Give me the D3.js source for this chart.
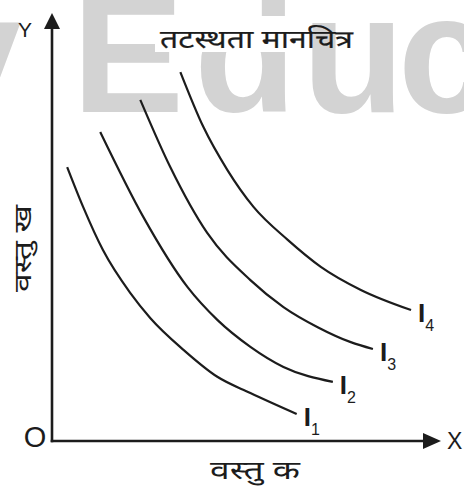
<!DOCTYPE html>
<html>
<head>
<meta charset="utf-8">
<script src="https://cdn.jsdelivr.net/npm/d3@7"></script>
<style>
html, body { margin: 0; padding: 0; background: #fff; }
svg { display: block; }
</style>
</head>
<body>
<div id="chart"></div>
<script>
// indifference map, values (0..100 on both axes)
var curveNames = ["1", "2", "3", "4"];
var i1X = [3.9, 8.0, 13.1, 20.1, 25.3, 33.8, 42.5, 51.0, 62.9];
var i1Y = [64.0, 54.7, 44.6, 34.6, 28.7, 21.3, 15.0, 11.2, 6.3];
var i2X = [12.4, 23.5, 34.8, 42.5, 51.0, 59.5, 72.2];
var i2Y = [72.2, 52.3, 36.0, 28.3, 22.0, 17.3, 13.8];
var i3X = [22.7, 30.4, 39.9, 51.0, 59.5, 68.3, 76.8, 82.5];
var i3Y = [79.7, 64.0, 48.6, 37.6, 31.3, 26.6, 23.1, 21.5];
var i4X = [33.0, 38.9, 45.1, 51.8, 60.6, 69.1, 79.4, 92.3];
var i4Y = [86.2, 73.4, 63.3, 54.7, 47.0, 40.7, 35.3, 30.6];

var title = "तटस्थता मानचित्र";
var xLabel = "वस्तु क";
var yLabel = "वस्तु ख";

var width = 464, height = 486;
var hindi = "'Noto Sans Devanagari', 'Lohit Devanagari', 'Noto Sans', sans-serif";
var latin = "'Liberation Sans', Arial, sans-serif";
var ink = "#1c1c1c";

var svg = d3.select("#chart").append("svg")
  .attr("width", width)
  .attr("height", height);

// watermark behind everything
var mark = svg.append("g")
  .attr("fill", "#d3d3d3")
  .attr("font-family", latin)
  .attr("font-weight", "bold")
  .attr("font-size", 168);
[["y", -72], ["E", 72], ["d", 194], ["u", 302], ["c", 398]].forEach(function(l) {
  mark.append("text").attr("x", l[1]).attr("y", 112).text(l[0]);
});

var x = d3.scaleLinear().domain([0, 100]).range([52, 441]);
var y = d3.scaleLinear().domain([0, 100]).range([441, 13]);

// axes without ticks, only the domain line
var xAxis = svg.append("g")
  .attr("transform", "translate(0," + y(0) + ")")
  .call(d3.axisBottom(x).tickValues([]).tickSizeOuter(0));
var yAxis = svg.append("g")
  .attr("transform", "translate(" + x(0) + ",0)")
  .call(d3.axisLeft(y).tickValues([]).tickSizeOuter(0));
xAxis.select(".domain").attr("stroke", ink).attr("stroke-width", 2.6)
  .attr("d", "M" + (x(0) - 1.3) + ",0H" + (x(100) - 10));
yAxis.select(".domain").attr("stroke", ink).attr("stroke-width", 2.6)
  .attr("d", "M0," + (y(0) + 1.3) + "V" + (y(100) + 10));

// arrow heads
svg.append("path")
  .attr("d", "M" + x(0) + "," + y(100) + "L" + (x(0) - 8) + "," + (y(100) + 16) +
    "L" + (x(0) + 8) + "," + (y(100) + 16) + "Z")
  .attr("fill", ink);
svg.append("path")
  .attr("d", "M" + x(100) + "," + y(0) + "L" + (x(100) - 18) + "," + (y(0) - 8) +
    "L" + (x(100) - 18) + "," + (y(0) + 8) + "Z")
  .attr("fill", ink);

// title on a white patch
svg.append("rect")
  .attr("x", 155).attr("y", 16).attr("width", 150).attr("height", 36)
  .attr("fill", "#fff");
svg.append("text")
  .attr("x", 160).attr("y", 48)
  .attr("textLength", 193)
  .attr("lengthAdjust", "spacingAndGlyphs")
  .attr("font-family", hindi)
  .attr("font-size", 25)
  .attr("fill", ink)
  .attr("stroke", ink)
  .attr("stroke-width", 0.2)
  .text(title);

// axis letters
svg.append("text").attr("x", 25).attr("y", 37)
  .attr("text-anchor", "middle").attr("font-family", latin)
  .attr("font-size", 21).attr("fill", ink).text("Y");
svg.append("text").attr("x", 35).attr("y", 447)
  .attr("text-anchor", "middle").attr("font-family", latin)
  .attr("font-size", 29).attr("fill", ink).text("O");
svg.append("text").attr("x", 447).attr("y", 449)
  .attr("font-family", latin)
  .attr("font-size", 23).attr("fill", ink).text("X");

svg.append("text")
  .attr("x", 210).attr("y", 479)
  .attr("textLength", 90)
  .attr("lengthAdjust", "spacingAndGlyphs")
  .attr("font-family", hindi)
  .attr("font-size", 25)
  .attr("fill", ink)
  .text(xLabel);
svg.append("text")
  .attr("transform", "translate(31,292) rotate(-90)")
  .attr("textLength", 87)
  .attr("lengthAdjust", "spacingAndGlyphs")
  .attr("font-family", hindi)
  .attr("font-size", 24)
  .attr("fill", ink)
  .text(yLabel);

var series = [
  d3.zip(i1X, i1Y),
  d3.zip(i2X, i2Y),
  d3.zip(i3X, i3Y),
  d3.zip(i4X, i4Y)
];

var line = d3.line()
  .x(function(d) { return x(d[0]); })
  .y(function(d) { return y(d[1]); })
  .curve(d3.curveMonotoneX);

svg.selectAll(".ic")
  .data(series)
  .enter().append("path")
  .attr("class", "ic")
  .attr("d", line)
  .attr("fill", "none")
  .attr("stroke", ink)
  .attr("stroke-width", 2.2);

var labels = svg.selectAll(".lbl")
  .data(series)
  .enter().append("text")
  .attr("class", "lbl")
  .attr("x", function(d) { return x(d[d.length - 1][0]) + 7; })
  .attr("y", function(d) { return y(d[d.length - 1][1]) + 12; })
  .attr("font-family", latin)
  .attr("fill", ink);
labels.append("tspan").attr("font-size", 26).attr("font-weight", "bold").text("I");
labels.append("tspan")
  .attr("font-size", 16)
  .attr("dy", 9)
  .text(function(d, i) { return curveNames[i]; });
</script>
</body>
</html>
